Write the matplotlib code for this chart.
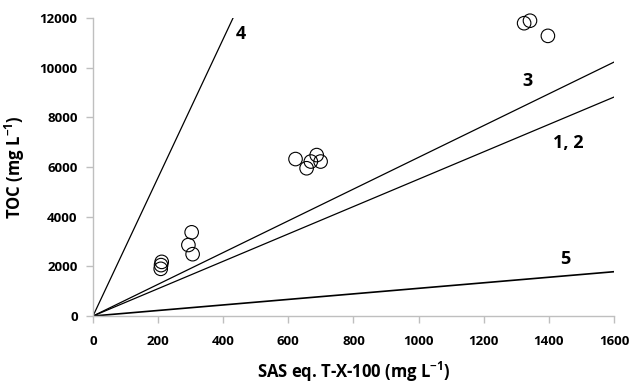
import numpy as np
import matplotlib
matplotlib.use('Agg')
import matplotlib.pyplot as plt

plt.rcParams['font.family'] = ['Open Sans', 'DejaVu Sans']
plt.rcParams['mathtext.fontset'] = 'custom'
plt.rcParams['mathtext.rm'] = 'Open Sans:bold'
plt.rcParams['mathtext.bf'] = 'Open Sans:bold'

# measured points (SAS eq. T-X-100 vs TOC)
sas = [208, 209, 211, 293, 303, 306, 622, 656, 669, 687, 699, 1324, 1342, 1397]
toc = [1900, 2050, 2180, 2860, 3370, 2490, 6320, 5950, 6220, 6480, 6220, 11790, 11890, 11280]

# reference lines through origin: label -> slope
line_labels = ['4', '3', '1, 2', '5']
line_slopes = [27.9, 6.39, 5.51, 1.115]
label_x = [455, 1335, 1460, 1450]
label_y = [11350, 9450, 6950, 2300]

fig = plt.figure(figsize=(6.3, 3.86), dpi=100)
ax = fig.add_axes([0.1476, 0.1813, 0.827, 0.7721])

xs = np.array([0, 1600])
for lab, k, lx, ly in zip(line_labels, line_slopes, label_x, label_y):
    lw = 1.2 if lab == '5' else 0.9
    ax.plot(xs, k * xs, color='black', linewidth=lw, zorder=2)
    ax.text(lx, ly, lab, fontsize=13, fontweight='bold', ha='center', va='center')

ax.scatter(sas, toc, s=95, facecolors='none', edgecolors='black', linewidths=0.8,
           zorder=3, clip_on=False)

ax.set_xlim(0, 1600)
ax.set_ylim(0, 12000)
ax.set_xticks(range(0, 1601, 200))
ax.set_yticks(range(0, 12001, 2000))

for s in ['top', 'right']:
    ax.spines[s].set_visible(False)
for s in ['left', 'bottom']:
    ax.spines[s].set_color('#BFBFBF')
    ax.spines[s].set_linewidth(1.0)
ax.tick_params(axis='both', colors='#BFBFBF', length=5, width=1.0, labelcolor='black', labelsize=9.5)
ax.tick_params(axis='x', pad=9)
ax.tick_params(axis='y', pad=6)
for t in ax.get_xticklabels() + ax.get_yticklabels():
    t.set_fontweight('bold')

ax.set_xlabel('SAS eq. T-X-100 (mg L$^{\\mathbf{-1}}$)', fontsize=12, fontweight='bold', labelpad=8)
ax.set_ylabel('TOC (mg L$^{\\mathbf{-1}}$)', fontsize=12, fontweight='bold', labelpad=9)

fig.savefig('out.png', dpi=100)
